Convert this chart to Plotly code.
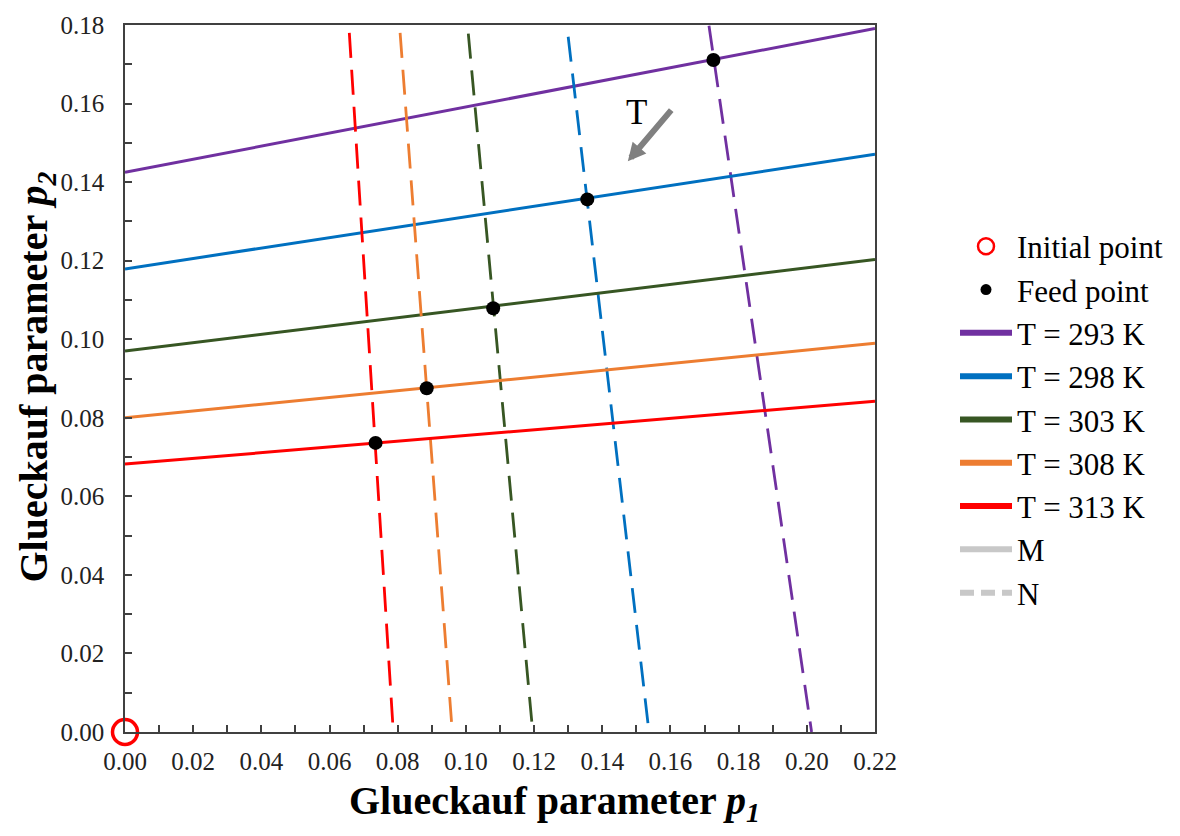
import plotly.graph_objects as go

# ---------------- data ----------------
temps = ["T = 293 K", "T = 298 K", "T = 303 K", "T = 308 K", "T = 313 K"]
colors = ["#7030A0", "#0070C0", "#375623", "#ED7D31", "#FF0000"]

# M lines (solid): p2 at p1 = 0 and at p1 = 0.22
m_x = [0.0, 0.22]
m_y_start = [0.1425, 0.1179, 0.0970, 0.0800, 0.0682]
m_y_end = [0.1791, 0.1471, 0.1203, 0.0990, 0.0842]

# N lines (dashed): top and bottom endpoints
n_top_x = [0.1713, 0.1300, 0.1007, 0.0807, 0.0658]
n_top_y = [0.1798, 0.1770, 0.1778, 0.1780, 0.1780]
n_bot_x = [0.2014, 0.1537, 0.1196, 0.0960, 0.0787]
n_bot_y = [0.0, 0.0, 0.0, 0.0, 0.0]

# Feed points (intersections)
feed_x = [0.1726, 0.1356, 0.1080, 0.0885, 0.0735]
feed_y = [0.1711, 0.1356, 0.1079, 0.0875, 0.0736]

init_x = [0.0]
init_y = [0.0]

FONT = "Liberation Serif"

fig = go.Figure()

for i, t in enumerate(temps):
    fig.add_trace(go.Scatter(x=m_x, y=[m_y_start[i], m_y_end[i]], mode="lines",
                             line=dict(color=colors[i], width=3), showlegend=False,
                             hoverinfo="skip"))
    fig.add_trace(go.Scatter(x=[n_top_x[i], n_bot_x[i]], y=[n_top_y[i], n_bot_y[i]],
                             mode="lines", line=dict(color=colors[i], width=2.8, dash="25px,12px"),
                             showlegend=False, hoverinfo="skip"))

fig.add_trace(go.Scatter(x=feed_x, y=feed_y, mode="markers",
                         marker=dict(color="black", size=14), showlegend=False))
fig.add_trace(go.Scatter(x=init_x, y=init_y, mode="markers", cliponaxis=False,
                         marker=dict(color="#FF0000", size=25, symbol="circle-open",
                                     line=dict(color="#FF0000", width=3.5)),
                         showlegend=False))

# legend entries
fig.add_trace(go.Scatter(x=[None], y=[None], mode="markers", name="Initial point",
                         marker=dict(size=16, symbol="circle-open", color="#FF0000",
                                     line=dict(color="#FF0000", width=2.5))))
fig.add_trace(go.Scatter(x=[None], y=[None], mode="markers", name="Feed point",
                         marker=dict(size=11, color="black")))
for i, t in enumerate(temps):
    fig.add_trace(go.Scatter(x=[None], y=[None], mode="lines", name=t,
                             line=dict(color=colors[i], width=6)))
fig.add_trace(go.Scatter(x=[None], y=[None], mode="lines", name="M",
                         line=dict(color="#C8C8C8", width=6)))
fig.add_trace(go.Scatter(x=[None], y=[None], mode="lines", name="N",
                         line=dict(color="#C8C8C8", width=6, dash="14px,7px")))

# arrow and T label
fig.add_annotation(x=0.1475, y=0.1453, ax=0.1606, ay=0.1587, xref="x", yref="y",
                   axref="x", ayref="y", text="", showarrow=True, arrowhead=2,
                   arrowsize=0.6, arrowwidth=6, arrowcolor="#808080")
fig.add_annotation(x=0.1499, y=0.1577, xref="x", yref="y", text="T", showarrow=False,
                   font=dict(family=FONT, size=35, color="black"))

# axis titles
fig.add_annotation(x=(554 - 125) / 750, y=-(804 - 732) / 712, xref="paper", yref="paper",
                   text="<b>Glueckauf parameter <i>p</i><sub><i>1</i></sub></b>",
                   showarrow=False, font=dict(family=FONT, size=40, color="black"),
                   xanchor="center", yanchor="middle")
fig.add_annotation(x=-(125 - 36) / 750, y=(732 - 375) / 712, xref="paper", yref="paper",
                   text="<b>Glueckauf parameter <i>p</i><sub><i>2</i></sub></b>",
                   showarrow=False, textangle=-90,
                   font=dict(family=FONT, size=40, color="black"),
                   xanchor="center", yanchor="middle")

axis_common = dict(showgrid=False, zeroline=False, showline=True, linecolor="#404040",
                   linewidth=1.5, mirror=True, ticks="inside", ticklen=7,
                   tickcolor="#404040", tickwidth=1.5,
                   tickfont=dict(family=FONT, size=25, color="#222222"),
                   tickformat=".2f")

fig.update_xaxes(range=[0, 0.22], tick0=0, dtick=0.02, ticklabelstandoff=6,
                 minor=dict(dtick=0.01, ticks="inside", ticklen=7, tickcolor="#404040",
                            tickwidth=1.5),
                 **axis_common)
fig.update_yaxes(range=[0, 0.18], tick0=0, dtick=0.02, ticklabelstandoff=14,
                 minor=dict(dtick=0.01, ticks="inside", ticklen=7, tickcolor="#404040",
                            tickwidth=1.5),
                 **axis_common)

fig.update_layout(
    width=1180, height=836,
    margin=dict(l=125, r=305, t=20, b=104),
    plot_bgcolor="white", paper_bgcolor="white",
    font=dict(family=FONT, color="black"),
    legend=dict(x=(955 - 125) / 750, y=(732 - 216) / 712, xanchor="left", yanchor="top",
                font=dict(family=FONT, size=31, color="black"),
                itemwidth=52, tracegroupgap=0, bgcolor="rgba(0,0,0,0)"),
    showlegend=True,
)

fig.write_html("out.html")
